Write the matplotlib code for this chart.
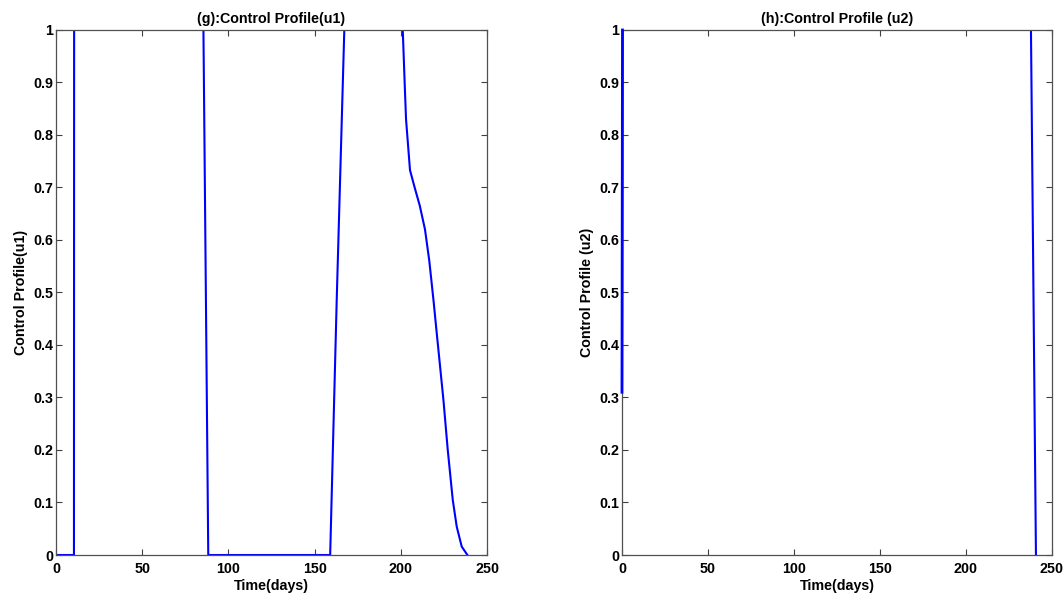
import matplotlib
matplotlib.use('Agg')
import matplotlib.pyplot as plt
import numpy as np

# values
t_u1 = [0, 10.4, 10.5, 85.5, 88.3, 159.0, 162.8, 167.2, 201.1, 202.2, 203.0,
        205.3, 208.0, 211.0, 214.0, 216.5, 218.9, 220.8, 224.7, 227.2, 230.1,
        232.4, 235.3, 238.6]
u1 = [0, 0, 1, 1, 0, 0, 0.486, 1, 1, 0.9, 0.83,
      0.733, 0.70, 0.665, 0.62, 0.56, 0.486, 0.423, 0.295, 0.2, 0.105,
      0.054, 0.016, 0]

t_u2 = [0, 0.3, 237.8, 240.7]
u2 = [0.31, 1, 1, 0]

titles = ['(g):Control Profile(u1)', '(h):Control Profile (u2)']
ylabels = ['Control Profile(u1)', 'Control Profile (u2)']
xticks = [0, 50, 100, 150, 200, 250]
yticks = [0, 0.1, 0.2, 0.3, 0.4, 0.5, 0.6, 0.7, 0.8, 0.9, 1]
ytick_labels = ['0', '0.1', '0.2', '0.3', '0.4', '0.5', '0.6', '0.7', '0.8', '0.9', '1']

plt.rcParams['font.family'] = ['Liberation Sans', 'DejaVu Sans']
plt.rcParams['font.weight'] = 'bold'
fs = 10.3

fig = plt.figure(figsize=(10.63, 5.98), dpi=100)
ax1 = fig.add_axes([0.0527, 0.0719, 0.4055, 0.878])
ax2 = fig.add_axes([0.5851, 0.0719, 0.4045, 0.878])

for ax, t, u, title, ylab in [(ax1, t_u1, u1, titles[0], ylabels[0]),
                              (ax2, t_u2, u2, titles[1], ylabels[1])]:
    ax.plot(t, u, color='#0000ff', lw=1.5)
    ax.set_xlim(0, 250)
    ax.set_ylim(0, 1)
    ax.set_xticks(xticks)
    ax.set_yticks(yticks)
    ax.set_yticklabels(ytick_labels)
    ax.tick_params(direction='in', top=True, right=True, length=4,
                   width=0.8, color='#404040', labelsize=fs)
    ax.tick_params(axis='x', pad=5)
    ax.tick_params(axis='y', pad=2)
    for s in ax.spines.values():
        s.set_color('#505050')
        s.set_linewidth(0.9)
    ax.set_title(title, fontsize=fs, fontweight='bold', pad=5)
    ax.set_xlabel('Time(days)', fontsize=fs, fontweight='bold', labelpad=2)
    ax.set_ylabel(ylab, fontsize=fs, fontweight='bold', labelpad=4)

# the initial rise of u2 sits on the left frame and is drawn over it
ax2.plot(t_u2[:2], u2[:2], color='#0000ff', lw=2, zorder=3, clip_on=False)

fig.savefig('out.png', dpi=100)
